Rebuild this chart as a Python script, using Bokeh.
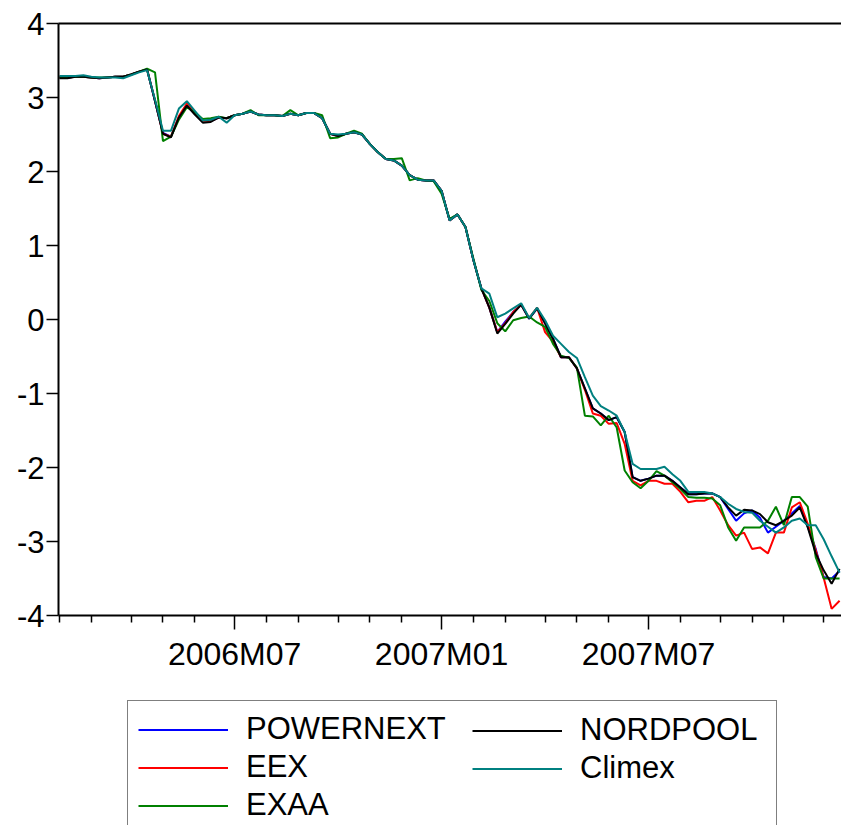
from bokeh.plotting import figure
from bokeh.layouts import column
from bokeh.models import Range1d, FixedTicker, LinearAxis, Legend, LegendItem
from bokeh.embed import file_html
from bokeh.resources import INLINE

# weekly observations, index 0 = first week of 2006M02
POWERNEXT = [3.27,3.27,3.28,3.28,3.27,3.26,3.27,3.28,3.28,3.31,
             3.35,3.38,2.95,2.52,2.47,2.73,2.89,2.78,2.67,2.68,
             2.73,2.72,2.76,2.78,2.81,2.77,2.76,2.76,2.75,2.78,
             2.76,2.79,2.79,2.72,2.51,2.48,2.51,2.53,2.50,2.37,
             2.26,2.17,2.15,2.08,1.95,1.89,1.88,1.88,1.74,1.34,
             1.42,1.25,0.80,0.42,0.16,-0.17,-0.03,0.10,0.20,0.01,
             0.15,-0.05,-0.26,-0.51,-0.51,-0.66,-0.93,-1.20,-1.27,-1.36,
             -1.32,-1.52,-2.13,-2.18,-2.15,-2.11,-2.11,-2.18,-2.27,-2.36,
             -2.36,-2.35,-2.35,-2.40,-2.56,-2.72,-2.62,-2.58,-2.68,-2.88,
             -2.80,-2.72,-2.62,-2.52,-2.80,-3.10,-3.48,-3.50,-3.40]
EEX = [3.27,3.27,3.28,3.28,3.27,3.26,3.27,3.28,3.28,3.31,
       3.35,3.38,2.96,2.51,2.47,2.75,2.92,2.80,2.67,2.68,
       2.73,2.72,2.76,2.78,2.81,2.77,2.76,2.76,2.75,2.78,
       2.76,2.79,2.79,2.72,2.51,2.48,2.51,2.53,2.50,2.37,
       2.26,2.17,2.15,2.08,1.95,1.89,1.88,1.88,1.74,1.34,
       1.42,1.25,0.80,0.42,0.16,-0.17,-0.05,0.10,0.20,0.02,
       0.16,-0.17,-0.30,-0.51,-0.51,-0.66,-0.95,-1.27,-1.30,-1.41,
       -1.40,-1.68,-2.18,-2.24,-2.18,-2.18,-2.22,-2.22,-2.33,-2.47,
       -2.45,-2.45,-2.40,-2.58,-2.78,-2.92,-2.88,-3.10,-3.08,-3.16,
       -2.88,-2.88,-2.54,-2.47,-2.76,-3.12,-3.49,-3.91,-3.80]
EXAA = [3.27,3.27,3.28,3.28,3.27,3.27,3.27,3.28,3.28,3.31,
        3.35,3.39,3.34,2.41,2.47,2.70,2.87,2.80,2.71,2.72,
        2.74,2.72,2.76,2.78,2.83,2.76,2.76,2.76,2.75,2.83,
        2.76,2.79,2.79,2.76,2.45,2.46,2.51,2.55,2.51,2.37,
        2.26,2.17,2.17,2.18,1.88,1.91,1.88,1.87,1.70,1.36,
        1.42,1.25,0.82,0.40,0.25,-0.05,-0.16,-0.01,0.02,0.04,
        -0.04,-0.10,-0.33,-0.49,-0.52,-0.65,-1.30,-1.31,-1.43,-1.30,
        -1.46,-2.04,-2.20,-2.28,-2.18,-2.05,-2.11,-2.20,-2.29,-2.40,
        -2.41,-2.41,-2.42,-2.51,-2.81,-2.99,-2.81,-2.81,-2.81,-2.72,
        -2.53,-2.78,-2.40,-2.40,-2.53,-3.21,-3.50,-3.50,-3.50]
NORDPOOL = [3.26,3.26,3.28,3.28,3.27,3.26,3.27,3.28,3.28,3.31,
            3.35,3.38,2.95,2.51,2.46,2.73,2.89,2.77,2.66,2.67,
            2.73,2.72,2.76,2.78,2.81,2.77,2.76,2.76,2.75,2.78,
            2.76,2.79,2.79,2.72,2.51,2.48,2.51,2.53,2.50,2.37,
            2.26,2.17,2.15,2.08,1.95,1.89,1.88,1.88,1.74,1.34,
            1.42,1.25,0.80,0.42,0.16,-0.19,-0.06,0.08,0.20,0.01,
            0.15,-0.05,-0.26,-0.51,-0.51,-0.66,-0.93,-1.20,-1.27,-1.36,
            -1.32,-1.52,-2.13,-2.18,-2.15,-2.11,-2.11,-2.18,-2.27,-2.36,
            -2.36,-2.35,-2.35,-2.40,-2.54,-2.65,-2.57,-2.58,-2.63,-2.74,
            -2.78,-2.72,-2.65,-2.54,-2.81,-3.16,-3.39,-3.57,-3.37]
Climex = [3.29,3.29,3.29,3.30,3.28,3.27,3.27,3.27,3.26,3.30,
          3.34,3.37,2.97,2.55,2.55,2.85,2.95,2.82,2.69,2.70,
          2.74,2.66,2.76,2.78,2.81,2.77,2.76,2.76,2.75,2.78,
          2.76,2.79,2.79,2.72,2.51,2.50,2.51,2.53,2.50,2.37,
          2.26,2.17,2.15,2.08,1.95,1.89,1.88,1.88,1.74,1.34,
          1.42,1.25,0.80,0.42,0.35,0.03,0.08,0.15,0.22,0.02,
          0.16,-0.01,-0.22,-0.33,-0.44,-0.52,-0.78,-1.03,-1.17,-1.23,
          -1.30,-1.52,-1.95,-2.02,-2.02,-2.02,-1.99,-2.09,-2.18,-2.33,
          -2.33,-2.33,-2.35,-2.40,-2.49,-2.56,-2.60,-2.61,-2.72,-2.80,
          -2.88,-2.81,-2.72,-2.69,-2.78,-2.78,-2.97,-3.20,-3.42]

# week index of the first week of each month
major_month_weeks = [22, 48, 74]
major_month_labels = ["2006M07", "2007M01", "2007M07"]
minor_month_weeks = [0, 4, 9, 13, 17, 26, 30, 35, 39, 43, 52, 56, 61, 65, 69,
                     78, 83, 87, 91, 96]
y_ticks = [-4, -3, -2, -1, 0, 1, 2, 3, 4]
y_tick_labels = ["-4", "-3", "-2", "-1", "0", "1", "2", "3", "4"]

weeks = list(range(len(NORDPOOL)))
FONT = "Liberation Sans"

p = figure(width=841, height=677,
           x_range=Range1d(-0.125, 98.24), y_range=Range1d(-4, 4),
           output_backend="svg", toolbar_location=None,
           min_border_left=58, min_border_right=0,
           min_border_top=23, min_border_bottom=62)
p.outline_line_color = None
p.xgrid.visible = False
p.ygrid.visible = False

series = [("POWERNEXT", POWERNEXT, "#0000FF"),
          ("EEX", EEX, "#FF0000"),
          ("EXAA", EXAA, "#008000"),
          ("NORDPOOL", NORDPOOL, "#000000"),
          ("Climex", Climex, "#008080")]
for name, vals, col in series:
    p.line(weeks, vals, line_color=col, line_width=2)

xa = p.xaxis[0]
xa.ticker = FixedTicker(ticks=major_month_weeks, minor_ticks=minor_month_weeks)
xa.major_label_overrides = {k: v for k, v in zip(major_month_weeks, major_month_labels)}
xa.major_tick_out = 14
xa.major_tick_in = 0
xa.minor_tick_out = 7
xa.minor_tick_in = 0
xa.axis_line_width = 2
xa.major_tick_line_width = 1.5
xa.minor_tick_line_width = 1.5
xa.major_label_standoff = 6
xa.major_label_text_font = FONT
xa.major_label_text_font_size = "32px"
xa.major_label_text_color = "black"

ya = p.yaxis[0]
ya.ticker = FixedTicker(ticks=y_ticks)
ya.major_label_overrides = {k: v for k, v in zip(y_ticks, y_tick_labels)}
ya.major_tick_out = 12
ya.major_tick_in = 0
ya.minor_tick_out = 0
ya.minor_tick_in = 0
ya.axis_line_width = 2
ya.major_tick_line_width = 1.5
ya.major_label_standoff = 2
ya.major_label_text_font = FONT
ya.major_label_text_font_size = "31px"
ya.major_label_text_color = "black"

top = LinearAxis(ticker=FixedTicker(ticks=[]), major_tick_out=0, major_tick_in=0,
                 minor_tick_out=0, minor_tick_in=0, axis_line_width=2,
                 major_label_text_font_size="0px")
p.add_layout(top, "above")

# legend panel below the chart (its frame is aligned with the chart's frame)
q = figure(width=841, height=148, x_range=Range1d(0, 1), y_range=Range1d(0, 1),
           output_backend="svg", toolbar_location=None,
           min_border_left=0, min_border_right=0, min_border_top=0, min_border_bottom=0)
q.axis.visible = False
q.grid.visible = False
q.outline_line_color = None
leg_r = {}
for name, vals, col in series:
    # legend swatch renderers, placed outside the visible range
    leg_r[name] = q.line(x=[5, 6], y=[5, 6], line_color=col, line_width=2)

common = dict(label_text_font=FONT, label_text_font_size="31px",
              label_text_color="black", glyph_width=90, glyph_height=33,
              label_height=33, label_standoff=18, spacing=2, padding=10,
              margin=0)
legA = Legend(items=[LegendItem(label=n, renderers=[leg_r[n]]) for n in ["POWERNEXT", "EEX", "EXAA"]],
              location=(69, -9), border_line_color="black", border_line_width=1,
              background_fill_color="white", background_fill_alpha=1.0,
              label_width=520, **common)
legB = Legend(items=[LegendItem(label=n, renderers=[leg_r[n]]) for n in ["NORDPOOL", "Climex"]],
              location=(404, 29), border_line_alpha=0, background_fill_alpha=0,
              **common)
q.add_layout(legA, "center")
q.add_layout(legB, "center")

open("out.html", "w").write(file_html(column(p, q, spacing=0), INLINE))
